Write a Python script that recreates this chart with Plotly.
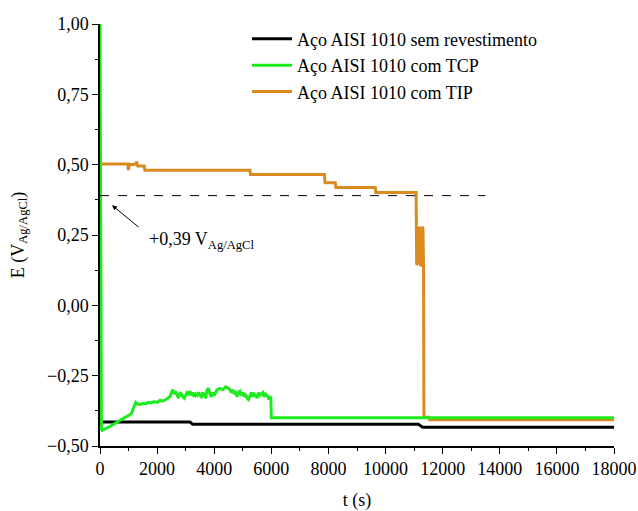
import plotly.graph_objects as go

# ---- data ----
black_t = [0, 3150, 3250, 11150, 11300, 18000]
black_E = [-0.415, -0.415, -0.423, -0.423, -0.433, -0.433]

green_t = [0, 50, 80, 150, 250, 350, 450, 550, 650, 750, 850, 950, 1050, 1100, 1150, 1200,
           1250, 1300, 1400, 1500,
           1600, 1700, 1800, 1900, 2000, 2100, 2200, 2300, 2400, 2450, 2500, 2550, 2600,
           2650, 2700, 2750, 2800, 2850, 2900, 2950, 3000, 3050, 3100, 3150, 3200, 3250,
           3300, 3350, 3400, 3450, 3500, 3550, 3600, 3650, 3700, 3750, 3800, 3850, 3900,
           3950, 4000, 4100, 4200, 4300, 4400, 4500, 4550, 4600, 4650, 4700, 4750, 4800,
           4850, 4900, 4950, 5000, 5050, 5100, 5150, 5200, 5250, 5300, 5350, 5400, 5450,
           5500, 5550, 5600, 5650, 5700, 5750, 5800, 5850, 5900, 5980, 6000, 18000]
green_E = [1.00, -0.44, -0.445, -0.44, -0.435, -0.43, -0.425, -0.418, -0.412, -0.405,
           -0.40, -0.395, -0.39, -0.385, -0.37, -0.355,
           -0.345, -0.35, -0.352, -0.348, -0.35, -0.345, -0.347, -0.342, -0.345, -0.338,
           -0.34, -0.335, -0.33, -0.325, -0.31, -0.30, -0.315, -0.305, -0.32, -0.33, -0.31,
           -0.315, -0.325, -0.33, -0.32, -0.31, -0.315, -0.305, -0.32, -0.31, -0.325,
           -0.315, -0.32, -0.31, -0.32, -0.325, -0.31, -0.32, -0.33, -0.30, -0.295, -0.315,
           -0.325, -0.31, -0.32, -0.30, -0.295, -0.30, -0.29, -0.295, -0.30, -0.31, -0.30,
           -0.315, -0.305, -0.325, -0.31, -0.305, -0.32, -0.31, -0.325, -0.315, -0.33,
           -0.335, -0.32, -0.31, -0.325, -0.315, -0.32, -0.33, -0.31, -0.32, -0.315, -0.31,
           -0.325, -0.315, -0.32, -0.33, -0.325, -0.40, -0.40]

orange_t = [0, 980, 990, 1030, 1270, 1280, 1320, 1550, 1570, 5250, 5270, 7860, 7880, 8240,
            8260, 9640, 9660, 11070, 11090, 11150, 11170, 11200, 11230, 11270, 11290, 11310,
            11330, 11345, 11520, 11540, 18000]
orange_E = [0.502, 0.502, 0.48, 0.50, 0.502, 0.512, 0.495, 0.495, 0.48, 0.48, 0.465, 0.465,
            0.436, 0.436, 0.419, 0.419, 0.401, 0.401, 0.145, 0.15, 0.28, 0.27, 0.14, 0.145,
            0.28, 0.27, 0.14, -0.398, -0.398, -0.407, -0.407]

names = ["Aço AISI 1010 sem revestimento", "Aço AISI 1010 com TCP", "Aço AISI 1010 com TIP"]
ref_level = 0.39
ref_end_t = 13500

FONT = "Liberation Serif"

fig = go.Figure()
fig.add_trace(go.Scatter(x=black_t, y=black_E, mode="lines", name=names[0],
                         line=dict(color="#000000", width=3), legendrank=1))
fig.add_trace(go.Scatter(x=orange_t, y=orange_E, mode="lines", name=names[2],
                         line=dict(color="#DA8A1E", width=3), legendrank=3))
fig.add_trace(go.Scatter(x=green_t, y=green_E, mode="lines", name=names[1],
                         line=dict(color="#1EEB1E", width=3), legendrank=2))

fig.add_shape(type="line", x0=0, x1=ref_end_t, y0=ref_level, y1=ref_level,
              xref="x", yref="y", line=dict(color="#000000", width=1, dash="dash"))

fig.add_annotation(x=420, y=0.356, ax=1400, ay=0.274, axref="x", ayref="y",
                   xref="x", yref="y", text="", showarrow=True, arrowhead=2,
                   arrowsize=1, arrowwidth=1, arrowcolor="#000000")
fig.add_annotation(x=1650, y=0.232, xref="x", yref="y", xanchor="left", yanchor="middle",
                   text="+0,39 V<sub>Ag/AgCl</sub>", showarrow=False,
                   font=dict(family=FONT, size=18, color="#000000"))

fig.update_layout(
    width=638, height=511,
    margin=dict(l=100, r=24, t=24, b=65),
    paper_bgcolor="white", plot_bgcolor="white",
    separators=",.",
    font=dict(family=FONT, size=18, color="#000000"),
    showlegend=True,
    legend=dict(x=0.286, y=1.008, xanchor="left", yanchor="top",
                bgcolor="rgba(0,0,0,0)", font=dict(family=FONT, size=18),
                tracegroupgap=0, itemwidth=40),
)
fig.update_xaxes(range=[0, 18000], tickvals=list(range(0, 18001, 2000)), tickformat="d",
                 automargin=False,
                 showline=True, linecolor="#000000", linewidth=1.5, ticks="outside",
                 ticklen=6, tickcolor="#000000", showgrid=False, zeroline=False,
                 minor=dict(ticks="outside", ticklen=3, dtick=1000, tickcolor="#000000"),
                 title=dict(text="t (s)", standoff=22, font=dict(family=FONT, size=18)),
                 tickfont=dict(family=FONT, size=18))
fig.update_yaxes(range=[-0.5, 1.0], tickvals=[-0.5, -0.25, 0, 0.25, 0.5, 0.75, 1.0],
                 tickformat=".2f", automargin=False,
                 showline=True, linecolor="#000000", linewidth=1.5, ticks="outside",
                 ticklen=6, tickcolor="#000000", showgrid=False, zeroline=False,
                 minor=dict(ticks="outside", ticklen=3, dtick=0.125, tickcolor="#000000"),
                 title=dict(text="E (V<sub>Ag/AgCl</sub>)", standoff=18,
                            font=dict(family=FONT, size=18)),
                 tickfont=dict(family=FONT, size=18))

fig.write_html("out.html")
